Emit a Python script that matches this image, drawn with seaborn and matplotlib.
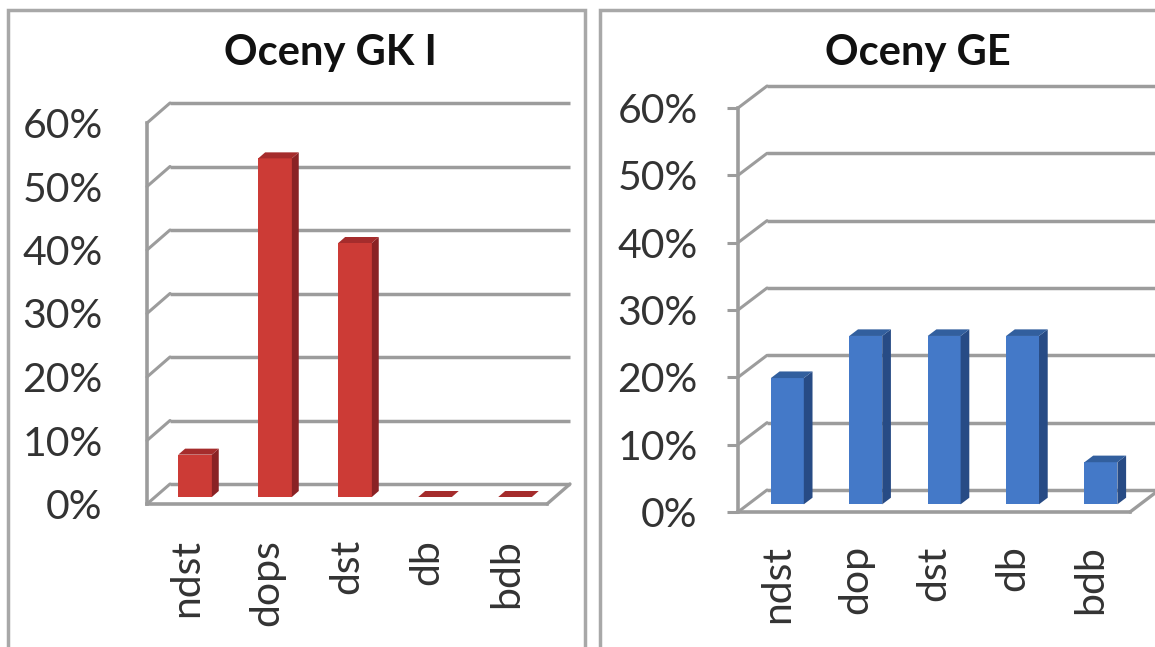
import numpy as np
import pandas as pd
import matplotlib
matplotlib.use("Agg")
import matplotlib.pyplot as plt
import seaborn as sns
from matplotlib.patches import Polygon, Rectangle

# ---- data ----
categories_gk = ["ndst", "dops", "dst", "db", "bdb"]
values_gk = [0.0667, 0.5333, 0.40, 0.0, 0.0]
categories_ge = ["ndst", "dop", "dst", "db", "bdb"]
values_ge = [0.1875, 0.25, 0.25, 0.25, 0.0625]
y_ticks = [0.0, 0.1, 0.2, 0.3, 0.4, 0.5, 0.6]
y_tick_labels = ["0%", "10%", "20%", "30%", "40%", "50%", "60%"]
titles = ["Oceny GK I", "Oceny GE"]

sns.set_theme(style="white")
plt.rcParams['font.family'] = ['Lato', 'DejaVu Sans']

W, H = 1155, 647
fig = plt.figure(figsize=(W / 100, H / 100), dpi=100)
fig.patch.set_facecolor("white")

GRID = "#9c9c9c"
TXT = "#333333"
LBL = 29.5


def fx(px):
    return px / W


def fy(py):
    return 1 - py / H


# panel borders
for x0, x1 in [(8, 585), (600, 1175)]:
    fig.add_artist(Rectangle((fx(x0), fy(665)), fx(x1 - x0), (665 - 10) / H,
                             transform=fig.transFigure, fill=False,
                             ec="#a8a8a8", lw=2.5))


def draw_chart(ax, cats, vals, face, side, top, dx, dy, ticklen, ypad, xpad):
    df = pd.DataFrame({"cat": cats, "val": vals})
    ax.set_xlim(-0.5, 4.5)
    ax.set_ylim(0, 0.6)
    ax.patch.set_alpha(0)
    sns.barplot(data=df, x="cat", y="val", ax=ax, color=face, width=0.42,
                saturation=1, linewidth=0, zorder=3)
    ax.set_xlim(-0.5, 4.5)
    ax.set_ylim(0, 0.6)
    # pixel -> data scale
    p0 = ax.transData.transform((0, 0))
    p1 = ax.transData.transform((1, 0.1))
    kx = p1[0] - p0[0]
    ky = (p1[1] - p0[1]) / 0.1
    ddx, ddy = dx / kx, dy / ky
    xmin, xmax = -0.5, 4.5
    # back wall gridlines + connectors
    for v in y_ticks:
        ax.plot([xmin + ddx, xmax + ddx], [v + ddy, v + ddy], color=GRID,
                lw=2.5, clip_on=False, zorder=1, solid_capstyle="butt")
        ax.plot([xmin, xmin + ddx], [v, v + ddy], color=GRID, lw=2.2,
                clip_on=False, zorder=1)
    # floor right edge
    ax.plot([xmax, xmax + ddx], [0, ddy], color=GRID, lw=2.4, clip_on=False,
            zorder=1)
    # 3D bars
    f0, fd = 0.35, 0.30
    bdx, bdy = fd * ddx, fd * ddy
    for p in ax.patches:
        p.set_x(p.get_x() + f0 * ddx)
        p.set_y(f0 * ddy)
        x, y, w, h = p.get_x(), p.get_y(), p.get_width(), p.get_height()
        ax.add_patch(Polygon([(x + w, y), (x + w, y + h), (x + w + bdx, y + h + bdy),
                              (x + w + bdx, y + bdy)], closed=True, fc=side,
                             ec="none", zorder=4, clip_on=False))
        ax.add_patch(Polygon([(x, y + h), (x + w, y + h), (x + w + bdx, y + h + bdy),
                              (x + bdx, y + h + bdy)], closed=True, fc=top,
                             ec="none", zorder=4, clip_on=False))
    for s in ["top", "right"]:
        ax.spines[s].set_visible(False)
    for s in ["left", "bottom"]:
        ax.spines[s].set_color(GRID)
        ax.spines[s].set_linewidth(2.6)
        ax.spines[s].set_zorder(2)
    ax.set_yticks(y_ticks, y_tick_labels)
    ax.tick_params(axis="y", length=ticklen, width=2.2, color=GRID, pad=ypad,
                   labelsize=LBL, labelcolor=TXT, left=True)
    ax.tick_params(axis="x", length=0, pad=xpad, labelsize=LBL, labelcolor=TXT,
                   labelrotation=90)
    ax.set_xlabel("")
    ax.set_ylabel("")


ax1 = fig.add_axes([fx(147), fy(504), fx(400), 381 / H])
draw_chart(ax1, categories_gk, values_gk, "#cc3b36", "#8a2224", "#a52c2c",
           23, 20, 0, 32, 25)
ax2 = fig.add_axes([fx(738), fy(512), fx(392), 404 / H])
draw_chart(ax2, categories_ge, values_ge, "#4479c8", "#274b85", "#325f9e",
           29, 22, 8, 21, 24)

fig.text(fx(330), fy(53), titles[0], ha="center", va="center", fontsize=30,
         fontweight="bold", color="#111111")
fig.text(fx(918), fy(53), titles[1], ha="center", va="center", fontsize=30,
         fontweight="bold", color="#111111")

fig.savefig("out.png", dpi=100, facecolor="white")
